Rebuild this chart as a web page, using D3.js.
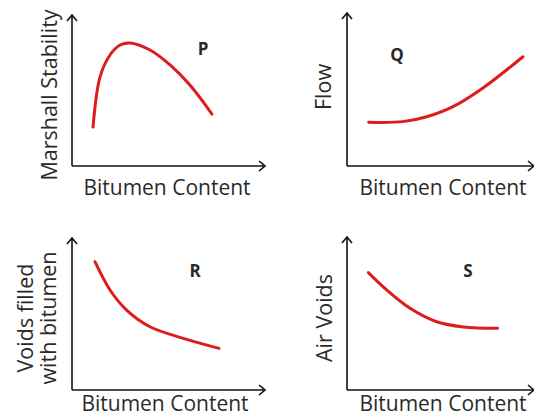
<!DOCTYPE html>
<html>
<head>
<meta charset="utf-8">
<script src="https://cdn.jsdelivr.net/npm/d3@7"></script>
<style>
  body { margin: 0; background: #fff; }
  text { font-family: "Open Sans", sans-serif; fill: #2a2a2a; }
</style>
</head>
<body>
<svg id="chart" width="534" height="419"></svg>
<script>
// Schematic curves, values in % of each axis length
const xLabel = 'Bitumen Content';
const panelNames = ['P', 'Q', 'R', 'S'];
const yLabels = [['Marshall Stability'], ['Flow'], ['Voids filled', 'with bitumen'], ['Air Voids']];

const stabilityX = [10.9, 14.5, 19.7, 24.9, 30.1, 40.4, 50.8, 61.1, 72.5];
const stabilityY = [25.8, 58.9, 73.5, 80.1, 81.5, 76.8, 66.9, 53.6, 34.4];

const flowX = [11.6, 29.9, 42.6, 56.7, 72.7, 94.1];
const flowY = [28.6, 29.0, 32.2, 38.8, 51.0, 71.4];

const vfbX = [11.9, 19.7, 28.3, 40.4, 57.7, 76.2];
const vfbY = [84.4, 65.8, 52.6, 41.6, 34.0, 27.4];

const airX = [11.4, 21.2, 33.7, 48.0, 62.2, 80.6];
const airY = [76.7, 65.4, 53.4, 44.6, 41.2, 40.3];

const seriesX = [stabilityX, flowX, vfbX, airX];
const seriesY = [stabilityY, flowY, vfbY, airY];

// panel layout: axis origin, axis lengths, label spots
const layout = [
  { ox: 72, oy: 166, w: 193, h: 151, lx: 203, ly: 55, yl: [57], yc: 95, bx: 167, by: 195 },
  { ox: 347, oy: 166, w: 187, h: 153, lx: 397, ly: 61, yl: [331], yc: 87, bx: 443, by: 195 },
  { ox: 72, oy: 390, w: 193, h: 152, lx: 195, ly: 277, yl: [33, 56], yc: 318, bx: 165, by: 411 },
  { ox: 347, oy: 390, w: 187, h: 153, lx: 468, ly: 277, yl: [332], yc: 318, bx: 443, by: 411 }
];

const svg = d3.select('#chart');

svg.append('defs').append('marker')
  .attr('id', 'arrow')
  .attr('viewBox', '-8 -6 10 12')
  .attr('markerWidth', 10)
  .attr('markerHeight', 12)
  .attr('markerUnits', 'userSpaceOnUse')
  .attr('orient', 'auto')
  .append('path')
  .attr('d', 'M-6,-5 L0,0 L-6,5')
  .attr('fill', 'none')
  .attr('stroke', '#111')
  .attr('stroke-width', 1.6);

layout.forEach((p, i) => {
  const x = d3.scaleLinear().domain([0, 100]).range([p.ox, p.ox + p.w]);
  const y = d3.scaleLinear().domain([0, 100]).range([p.oy, p.oy - p.h]);
  const g = svg.append('g');

  // axes
  g.append('line')
    .attr('x1', x(0)).attr('y1', y(0)).attr('x2', x(100)).attr('y2', y(0))
    .attr('stroke', '#111').attr('stroke-width', 1.6)
    .attr('marker-end', 'url(#arrow)');
  g.append('line')
    .attr('x1', x(0)).attr('y1', y(0)).attr('x2', x(0)).attr('y2', y(100))
    .attr('stroke', '#111').attr('stroke-width', 1.6)
    .attr('marker-end', 'url(#arrow)');

  const pts = seriesX[i].map((v, j) => [v, seriesY[i][j]]);
  const line = d3.line()
    .x(d => x(d[0]))
    .y(d => y(d[1]))
    .curve(d3.curveCatmullRom.alpha(0.5));

  g.append('path')
    .attr('d', line(pts))
    .attr('fill', 'none')
    .attr('stroke', '#dd1c1c')
    .attr('stroke-width', 3)
    .attr('stroke-linecap', 'round');

  g.append('text')
    .text(panelNames[i])
    .attr('x', p.lx).attr('y', p.ly)
    .attr('text-anchor', 'middle')
    .attr('font-weight', 'bold')
    .attr('font-size', 17);

  g.append('text')
    .text(xLabel)
    .attr('x', p.bx).attr('y', p.by)
    .attr('text-anchor', 'middle')
    .attr('font-size', 21);

  yLabels[i].forEach((t, k) => {
    g.append('text')
      .text(t)
      .attr('transform', `translate(${p.yl[k]}, ${p.yc}) rotate(-90)`)
      .attr('text-anchor', 'middle')
      .attr('font-size', 21.5);
  });
});
</script>
</body>
</html>
